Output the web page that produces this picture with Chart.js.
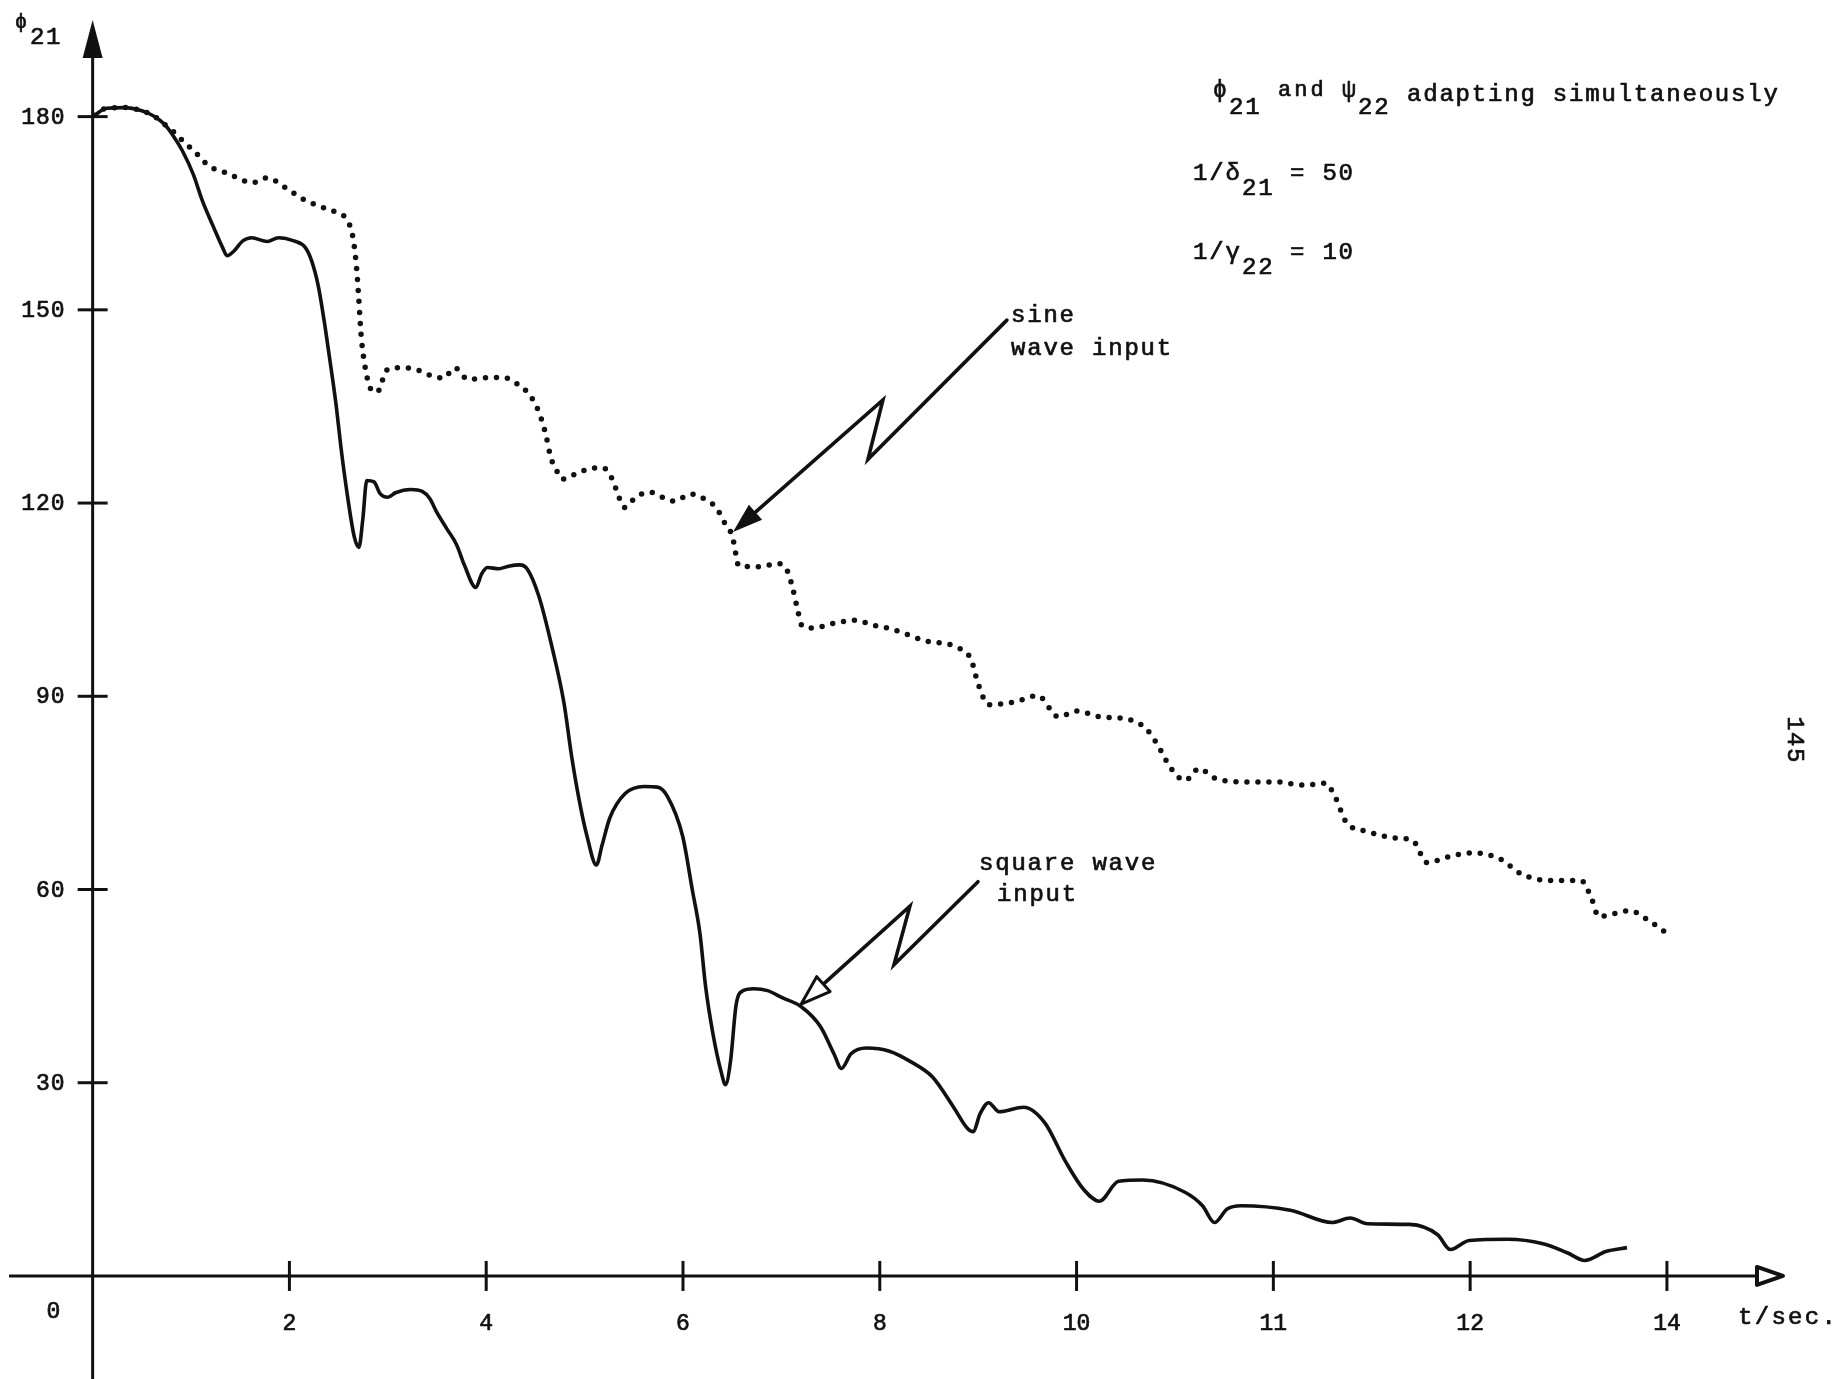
<!DOCTYPE html>
<html>
<head>
<meta charset="utf-8">
<script src="https://cdn.jsdelivr.net/npm/chart.js@4.4.1/dist/chart.umd.min.js"></script>
<style>
  html, body { margin: 0; padding: 0; background: #fff; }
  canvas { display: block; }
</style>
</head>
<body>
<canvas id="plot" width="1847" height="1379"></canvas>
<script>
// Time axis is expressed in axis divisions (one division between labelled ticks).
const xTickPos    = [1, 2, 3, 4, 5, 6, 7, 8];
const xTickLabels = ['2', '4', '6', '8', '10', '11', '12', '14'];
const originLabel = '0';
const yTickVals   = [30, 60, 90, 120, 150, 180];

// phi_21 response with square wave input (solid)
const tSquare = [0.01,0.07,0.16,0.25,0.31,0.365,0.41,0.456,0.512,0.558,0.615,0.66,0.683,0.717,0.763,0.808,0.887,0.944,1.023,1.08,
  1.113,1.148,1.182,1.216,1.239,1.262,1.296,1.33,1.353,1.373,1.393,1.43,1.46,1.5,1.539,1.617,1.675,1.713,1.75,1.8,
  1.85,1.89,1.947,1.977,2.006,2.064,2.113,2.171,2.21,2.268,2.337,2.395,2.434,2.473,2.512,2.56,2.589,2.628,2.706,2.803,
  2.871,2.92,2.998,3.047,3.086,3.115,3.154,3.193,3.216,3.241,3.27,3.30,3.36,3.43,3.504,3.601,3.699,3.767,3.805,3.854,3.932,
  4.049,4.161,4.268,4.375,4.446,4.474,4.51,4.553,4.606,4.731,4.838,4.945,5.034,5.116,5.213,5.337,5.551,5.64,5.701,5.765,
  5.836,6.086,6.3,6.39,6.478,6.692,6.835,6.899,6.995,7.191,7.37,7.494,7.583,7.69,7.797];
const phiSquare = [180.2,181.3,181.4,180.9,180.1,178.8,177.0,174.7,171.0,166.9,162.8,159.7,158.4,159.1,160.7,161.2,160.6,161.2,160.7,159.7,
  157.6,153.5,147.2,140.0,134.8,128.6,120.9,114.7,113.1,117.5,123.5,123.3,121.5,120.9,121.6,122.1,121.8,120.7,118.5,116.0,
  113.5,110.3,106.9,109.0,110.0,109.8,110.2,110.4,109.7,105.5,97.3,89.0,80.7,73.8,68.3,63.8,66.9,71.1,74.9,76.0,
  75.9,74.5,68.3,60.0,53.2,44.9,37.3,31.8,29.7,33.2,42.1,44.2,44.6,44.3,43.2,41.8,38.7,34.5,32.2,34.5,35.4,
  34.9,33.2,30.9,26.2,22.9,22.4,25.2,26.9,25.5,26.2,23.8,17.7,13.5,11.6,14.7,14.9,13.0,10.9,8.3,10.4,
  10.9,10.2,8.3,9.0,8.1,8.0,6.4,4.1,5.5,5.7,5.0,3.6,2.4,3.8,4.4];

// phi_21 response with sine wave input (dotted)
const tSine = [0.01,0.07,0.16,0.25,0.31,0.365,0.399,0.456,0.524,0.592,0.66,0.751,0.808,0.887,0.978,1.069,1.16,1.239,1.296,1.323,
  1.341,1.352,1.364,1.382,1.409,1.432,1.459,1.489,1.546,1.624,1.727,1.783,1.84,1.908,2.021,2.09,2.147,2.203,2.249,2.283,
  2.306,2.328,2.362,2.385,2.453,2.521,2.578,2.623,2.657,2.703,2.76,2.828,2.896,2.953,3.043,3.111,3.168,3.214,3.252,3.269,
  3.282,3.384,3.486,3.533,3.562,3.582,3.604,3.661,3.776,3.874,3.97,4.054,4.232,4.393,4.464,4.499,4.553,4.695,4.802,4.909,
  4.998,5.124,5.266,5.355,5.409,5.48,5.551,5.623,5.694,5.836,6.014,6.157,6.264,6.318,6.371,6.478,6.62,6.709,6.78,6.905,
  7.012,7.154,7.261,7.404,7.564,7.617,7.653,7.813,7.902,8.008];
const phiSine = [180.2,181.3,181.4,180.9,180.1,178.8,178.0,176.3,174.4,172.3,171.5,170.3,169.7,170.5,169.0,167.2,166.0,165.1,163.8,161.2,
  156.6,151.9,146.2,141.6,138.0,137.2,137.7,140.5,141.0,140.9,139.7,139.4,141.0,139.2,139.5,139.5,138.7,137.4,135.4,132.8,
  130.2,127.1,124.8,123.7,124.5,125.3,125.5,124.8,122.4,119.3,120.9,121.7,120.9,120.3,121.4,120.6,119.3,116.8,114.7,112.0,
  110.3,110.1,110.6,109.3,106.2,103.5,101.0,100.6,101.4,101.8,101.0,100.5,98.6,97.6,95.7,92.0,88.7,89.2,90.1,86.8,
  87.7,86.8,86.4,84.9,82.6,78.8,76.9,78.8,77.4,76.7,76.7,76.2,76.5,74.1,70.4,69.0,68.0,67.6,64.2,65.2,
  65.7,64.7,62.4,61.4,61.4,58.6,55.8,56.7,55.3,53.0];

// Pointer arrows (data units): start, zig corner, zag corner, tip
const sineArrowPath   = [[4.646, 148.4], [3.94, 126.8], [4.016, 136.0], [3.254, 115.5]];
const squareArrowPath = [[4.499, 61.2], [4.072, 48.3], [4.153, 57.4], [3.6, 42.2]];

const INK = '#111';
const MONO = '"Liberation Mono", "DejaVu Sans Mono", monospace';

// Typewriter-style text: filled glyphs with a thin outline for weight
function put(ctx, s, x, y, size, spacing, align, base) {
  ctx.font = size + 'px ' + MONO;
  ctx.letterSpacing = (spacing || 0) + 'px';
  ctx.textAlign = align || 'left';
  ctx.textBaseline = base || 'alphabetic';
  ctx.fillStyle = INK;
  ctx.strokeStyle = INK;
  ctx.lineWidth = 0.7;
  ctx.lineJoin = 'round';
  ctx.fillText(s, x, y);
  ctx.strokeText(s, x, y);
}

function seg(ctx, x1, y1, x2, y2) {
  ctx.beginPath(); ctx.moveTo(x1, y1); ctx.lineTo(x2, y2); ctx.stroke();
}

function pointer(ctx, chart, path, filled) {
  const {x, y} = chart.scales;
  const pts = path.map(p => [x.getPixelForValue(p[0]), y.getPixelForValue(p[1])]);
  const tip = pts[pts.length - 1], prev = pts[pts.length - 2];
  const dx = tip[0] - prev[0], dy = tip[1] - prev[1];
  const len = Math.hypot(dx, dy), ux = dx / len, uy = dy / len;
  const L = 30, W = 10;
  const bx = tip[0] - ux * L, by = tip[1] - uy * L;
  ctx.save();
  ctx.strokeStyle = INK; ctx.fillStyle = INK; ctx.lineWidth = 3.6;
  ctx.lineJoin = 'miter'; ctx.lineCap = 'round';
  ctx.beginPath();
  ctx.moveTo(pts[0][0], pts[0][1]);
  for (let i = 1; i < pts.length - 1; i++) ctx.lineTo(pts[i][0], pts[i][1]);
  ctx.lineTo(bx, by);
  ctx.stroke();
  ctx.beginPath();
  ctx.moveTo(tip[0], tip[1]);
  ctx.lineTo(bx - uy * W, by + ux * W);
  ctx.lineTo(bx + uy * W, by - ux * W);
  ctx.closePath();
  if (filled) { ctx.fill(); }
  else { ctx.fillStyle = '#fff'; ctx.fill(); ctx.lineWidth = 3; ctx.lineJoin = 'round'; ctx.stroke(); }
  ctx.restore();
}

const axesPlugin = {
  id: 'handAxes',
  beforeDatasetsDraw(chart) {
    const {ctx, chartArea: a, scales: {x, y}} = chart;
    const x0 = x.getPixelForValue(0), y0 = y.getPixelForValue(0);
    ctx.save();
    ctx.strokeStyle = INK; ctx.fillStyle = INK; ctx.lineWidth = 3; ctx.lineCap = 'butt';

    // horizontal axis with open arrowhead
    seg(ctx, a.left, y0, a.right - 26, y0);
    ctx.beginPath();
    ctx.moveTo(a.right - 2, y0); ctx.lineTo(a.right - 28, y0 - 9); ctx.lineTo(a.right - 28, y0 + 9); ctx.closePath();
    ctx.lineWidth = 4; ctx.lineJoin = 'round'; ctx.stroke();

    // vertical axis with solid arrowhead
    ctx.lineWidth = 3;
    seg(ctx, x0, a.bottom, x0, a.top + 30);
    ctx.beginPath();
    ctx.moveTo(x0, a.top); ctx.lineTo(x0 - 10, a.top + 38); ctx.lineTo(x0 + 10, a.top + 38); ctx.closePath();
    ctx.fill();

    // tick marks crossing the axes, and their labels
    xTickPos.forEach((v, i) => {
      const px = x.getPixelForValue(v);
      ctx.lineWidth = 3;
      seg(ctx, px, y0 - 15, px, y0 + 15);
      put(ctx, xTickLabels[i], px, y0 + 48, 23, 0, 'center', 'middle');
    });
    yTickVals.forEach(v => {
      const py = y.getPixelForValue(v);
      ctx.lineWidth = 3;
      seg(ctx, x0 - 15, py, x0 + 15, py);
      put(ctx, String(v), x0 - 27, py + 1, 23, 1, 'right', 'middle');
    });
    put(ctx, originLabel, x.getPixelForValue(-0.2), y0 + 36, 23, 0, 'center', 'middle');

    // axis titles
    put(ctx, 't/sec.', a.right - 47, y0 + 48, 24, 2.3, 'left', 'alphabetic');
    put(ctx, 'ϕ', 15, 28, 20, 0);
    put(ctx, '21', 30, 44, 24, 1.5);
    ctx.restore();
  },
  afterDatasetsDraw(chart) {
    const {ctx} = chart;
    ctx.save();

    // parameter notes
    put(ctx, 'ϕ', 1213, 97, 23, 0);
    put(ctx, '21', 1229, 114, 24, 1.8);
    put(ctx, 'and', 1278, 96, 22, 3);
    put(ctx, 'ψ', 1342, 97, 23, 0);
    put(ctx, '22', 1358, 114, 24, 1.8);
    put(ctx, 'adapting simultaneously', 1407, 101, 24, 1.8);

    put(ctx, '1/δ', 1193, 180, 24, 1.8);
    put(ctx, '21', 1242, 195, 24, 1.8);
    put(ctx, '= 50', 1290, 180, 24, 1.8);

    put(ctx, '1/γ', 1193, 259, 24, 1.8);
    put(ctx, '22', 1242, 274, 24, 1.8);
    put(ctx, '= 10', 1290, 259, 24, 1.8);

    // curve labels
    put(ctx, 'sine', 1011, 322, 24, 1.8);
    put(ctx, 'wave input', 1011, 355, 24, 1.8);
    put(ctx, 'square wave', 979, 870, 24, 1.8);
    put(ctx, 'input', 997, 901, 24, 1.8);

    // page number, turned sideways
    ctx.translate(1794, 740);
    ctx.rotate(Math.PI / 2);
    put(ctx, '145', 0, 0, 24, 1.5, 'center', 'middle');
    ctx.restore();

    pointer(ctx, chart, sineArrowPath, true);
    pointer(ctx, chart, squareArrowPath, false);
  }
};

const toPts = (ts, vs) => ts.map((t, i) => ({x: t, y: vs[i]}));

new Chart(document.getElementById('plot'), {
  type: 'line',
  data: {
    datasets: [
      {
        label: 'square wave input',
        data: toPts(tSquare, phiSquare),
        borderColor: INK,
        borderWidth: 3.6,
        pointRadius: 0,
        cubicInterpolationMode: 'monotone',
        fill: false
      },
      {
        label: 'sine wave input',
        data: toPts(tSine, phiSine),
        borderColor: INK,
        borderWidth: 5.5,
        borderDash: [0, 11],
        borderCapStyle: 'round',
        pointRadius: 0,
        cubicInterpolationMode: 'monotone',
        fill: false
      }
    ]
  },
  options: {
    responsive: false,
    animation: false,
    devicePixelRatio: 1,
    events: [],
    layout: { padding: { left: 9, right: 62, top: 20, bottom: 0 } },
    plugins: { legend: { display: false }, tooltip: { enabled: false } },
    scales: {
      x: { type: 'linear', min: -0.425, max: 8.6, display: false },
      y: { type: 'linear', min: -16, max: 195, display: false }
    }
  },
  plugins: [axesPlugin]
});
</script>
</body>
</html>
